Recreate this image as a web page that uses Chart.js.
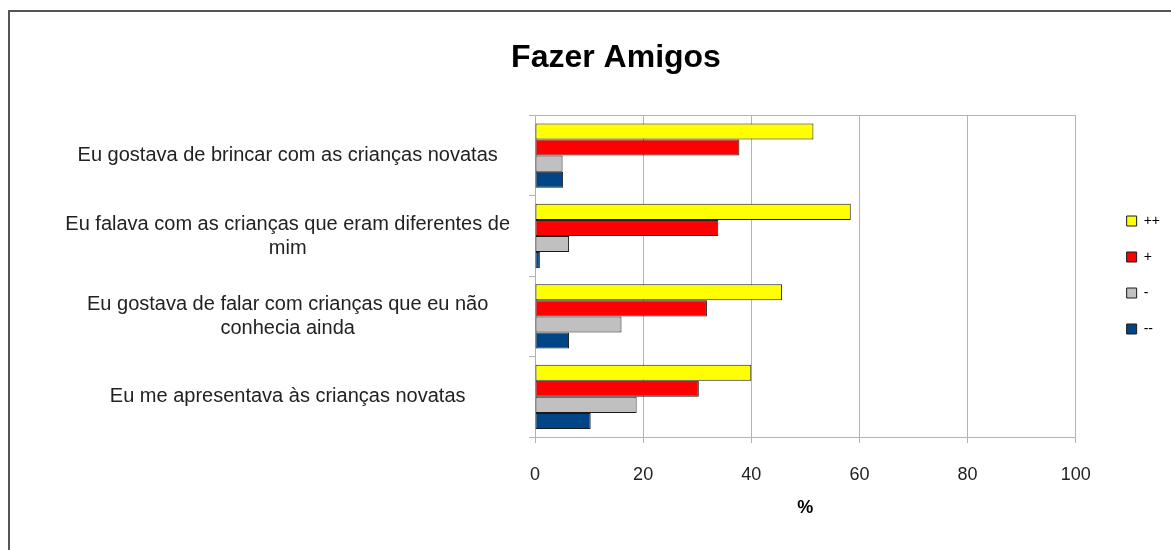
<!DOCTYPE html>
<html>
<head>
<meta charset="utf-8">
<script src="https://cdn.jsdelivr.net/npm/chart.js@4.4.1/dist/chart.umd.min.js"></script>
<style>
  html, body { margin: 0; padding: 0; background: #fff; overflow: hidden; }
  #frame { position: absolute; left: 8px; top: 10px; width: 1300px; height: 700px; border: 2px solid #555; }
  #wrap { position: absolute; left: 0; top: 0; width: 1171px; height: 550px; }
</style>
</head>
<body>
<div id="frame"></div>
<div id="wrap"><canvas id="chart"></canvas></div>
<script>
const categories = [
  'Eu gostava de brincar com as crianças novatas',
  ['Eu falava com as crianças que eram diferentes de', 'mim'],
  ['Eu gostava de falar com crianças que eu não', 'conhecia ainda'],
  'Eu me apresentava às crianças novatas'
]
const seriesNames = ['++', '+', '-', '--']
const veryPositive = [51.5, 58.4, 45.7, 40.0]
const positive = [37.8, 33.9, 31.8, 30.3]
const negative = [5.1, 6.3, 16.0, 18.8]
const veryNegative = [5.2, 0.9, 6.3, 10.3]
const xTicks = [0, 20, 40, 60, 80, 100]

const colors = ['#ffff00', '#ff0000', '#c0c0c0', '#004586']
const gridColor = '#b3b3b3'
const font = 'Liberation Sans, Arial, sans-serif'

const datasets = [veryPositive, positive, negative, veryNegative].map((values, i) => ({
  label: seriesNames[i],
  data: values,
  backgroundColor: colors[i],
  borderColor: '#1a1a1a',
  borderWidth: 1,
  borderSkipped: false,
  categoryPercentage: 0.8,
  barPercentage: 1.0
}))

new Chart(document.getElementById('chart'), {
  type: 'bar',
  data: { labels: categories, datasets: datasets },
  options: {
    indexAxis: 'y',
    responsive: true,
    maintainAspectRatio: false,
    animation: false,
    layout: { padding: { left: 62, right: 1, top: 0, bottom: 0 } },
    plugins: {
      title: {
        display: true,
        text: 'Fazer Amigos',
        color: '#000',
        font: { family: font, size: 32, weight: 'bold' },
        padding: { top: 39, bottom: 38 }
      },
      legend: {
        position: 'right',
        labels: {
          color: '#000',
          font: { family: font, size: 14 },
          boxWidth: 10,
          boxHeight: 10,
          padding: 22
        }
      },
      tooltip: { enabled: false }
    },
    scales: {
      x: {
        min: 0,
        max: 100,
        afterBuildTicks: s => { s.ticks = xTicks.map(v => ({ value: v })) },
        grid: { color: gridColor, tickColor: gridColor, tickLength: 6 },
        border: { color: gridColor },
        ticks: { color: '#222', font: { family: font, size: 18 }, padding: 21, maxRotation: 0 },
        title: {
          display: true,
          text: '%',
          color: '#000',
          font: { family: font, size: 18, weight: 'bold' },
          padding: { top: 0, bottom: 31 }
        },
        afterFit: s => { s.height = 113 }
      },
      y: {
        offset: true,
        grid: {
          offset: true,
          color: ctx => (ctx.index === 0 || ctx.index === categories.length) ? gridColor : 'rgba(0,0,0,0)',
          tickColor: gridColor,
          tickLength: 6
        },
        border: { color: gridColor },
        ticks: {
          color: '#222',
          font: { family: font, size: 20, lineHeight: 1.2 },
          padding: 19,
          crossAlign: 'center',
          autoSkip: false
        },
        afterFit: s => { s.width = 473 }
      },
      pad: {
        position: 'right',
        display: true,
        ticks: { display: false },
        grid: { display: false },
        border: { display: false },
        afterFit: s => { s.width = 29 }
      }
    }
  }
})
</script>
</body>
</html>
